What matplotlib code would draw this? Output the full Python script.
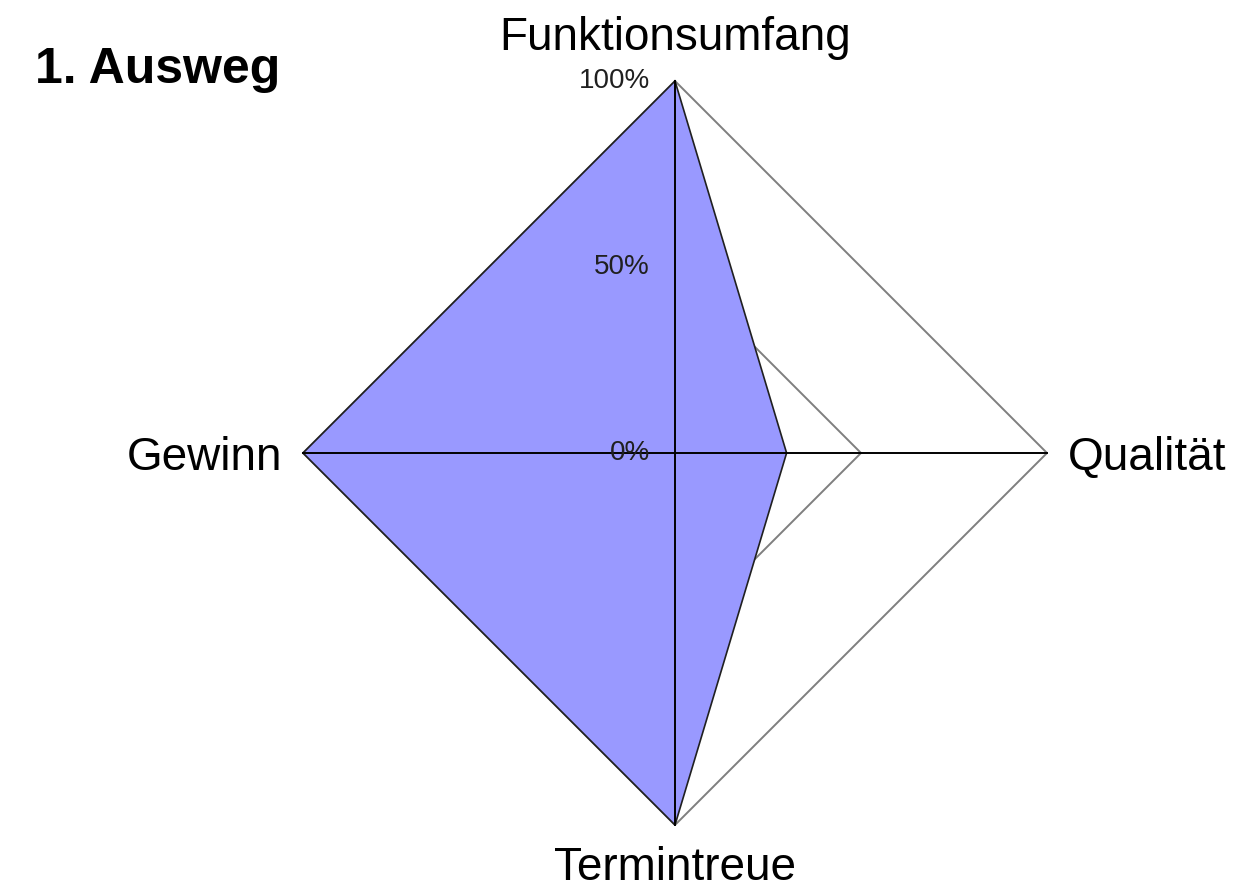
import matplotlib.pyplot as plt
import numpy as np

plt.rcParams["font.family"] = ["Liberation Sans", "DejaVu Sans"]

# ----- Data -----
categories = ["Funktionsumfang", "Qualität", "Termintreue", "Gewinn"]
values = [100, 30, 100, 100]  # percent
ring_levels = [50, 100]
tick_levels = [0, 50, 100]
tick_labels = ["0%", "50%", "100%"]
title = "1. Ausweg"

# ----- Settings -----
FILL = "#9999FF"
GRID = "#7f7f7f"
R_MAX = 100.0
PX = 372  # pixels for 100 %

# angles clockwise from the top
angles = np.pi / 2 - np.arange(len(categories)) * 2 * np.pi / len(categories)


def to_xy(r, a):
    return np.asarray(r) / R_MAX * np.cos(a), np.asarray(r) / R_MAX * np.sin(a)


fig = plt.figure(figsize=(12.36, 8.93), dpi=100)
ax = fig.add_axes([0, 0, 1, 1])
# centre at pixel (675, 453)
ax.set_xlim(-675 / PX, (1236 - 675) / PX)
ax.set_ylim(-(893 - 453) / PX, 453 / PX)
ax.axis("off")

# grid rings
for lvl in ring_levels:
    x, y = to_xy([lvl] * len(angles), angles)
    ax.plot(np.append(x, x[0]), np.append(y, y[0]), color=GRID, lw=1.4, zorder=1)

# data polygon
x, y = to_xy(values, angles)
ax.fill(x, y, facecolor=FILL, edgecolor="#202020", lw=1.2, zorder=2)

# spokes
for a in angles:
    sx, sy = to_xy([0, R_MAX], [a, a])
    ax.plot(sx, sy, color="black", lw=1.4, zorder=3)

# category labels
pad = 21 / PX
for cat, a in zip(categories, angles):
    cx, cy = np.cos(a), np.sin(a)
    if abs(cx) < 1e-6:
        if cy > 0:
            ax.text(0, 1 + pad, cat, ha="center", va="bottom", fontsize=33, zorder=4)
        else:
            ax.text(0, -1 - 65 / PX, cat, ha="center", va="bottom",
                    fontsize=33, zorder=4)
    else:
        ha = "left" if cx > 0 else "right"
        ax.text(cx * (1 + pad), 0, cat, ha=ha, va="center_baseline",
                fontsize=33, zorder=4)

# radial tick labels
for lvl, lab in zip(tick_levels, tick_labels):
    ax.text(-25 / PX, lvl / R_MAX, lab, ha="right", va="center",
            fontsize=20, color="#202020", zorder=4)

fig.text(35 / 1236, 1 - 83 / 893, title, ha="left", va="baseline",
         fontsize=36, fontweight="bold")

fig.savefig("out.png", dpi=100)
